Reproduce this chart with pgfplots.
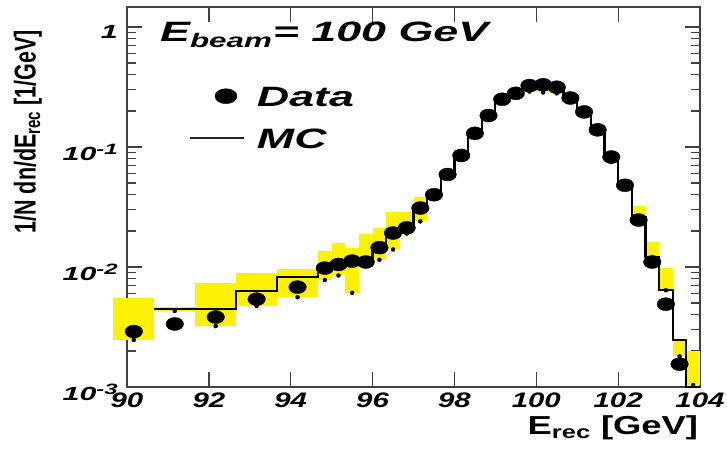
\documentclass[border=0pt]{standalone}
\usepackage{pgfplots}
\pgfplotsset{compat=1.18}
\usepackage{pgfplotstable}
\usepackage{graphicx}
\usepackage{fontspec}
\setmainfont{Liberation Sans}
\newcommand{\hs}[2]{\scalebox{#1}[1]{#2}}
\newcommand{\supx}[1]{\raisebox{6pt}{\fontsize{15}{15}\selectfont #1}}

% Data points: bin centre, 1/N dn/dE
\pgfplotstableread{
x y
90.167 0.0029
91.167 0.00335
92.167 0.00383
93.167 0.0054
94.167 0.0068
94.833 0.0098
95.167 0.0105
95.5 0.0112
95.833 0.0110
96.167 0.0145
96.5 0.0192
96.833 0.0212
97.167 0.031
97.5 0.040
97.833 0.059
98.167 0.085
98.5 0.130
98.833 0.183
99.167 0.250
99.5 0.280
99.833 0.325
100.167 0.330
100.5 0.315
100.833 0.256
101.167 0.196
101.5 0.139
101.833 0.0825
102.167 0.048
102.5 0.0246
102.833 0.011
103.167 0.0049
103.5 0.00155
}\data

% MC histogram: bin left edge, content (last row = right end)
\pgfplotstableread{
x y
90.667 0.00447
91.667 0.00447
92.667 0.0063
93.667 0.00825
94.667 0.0100
95.0 0.0107
95.333 0.0112
95.667 0.0115
96.0 0.0148
96.333 0.0198
96.667 0.0220
97.0 0.032
97.333 0.042
97.667 0.061
98.0 0.088
98.333 0.128
98.667 0.180
99.0 0.245
99.333 0.275
99.667 0.305
100.0 0.31
100.333 0.30
100.667 0.25
101.0 0.195
101.333 0.14
101.667 0.085
102.0 0.050
102.333 0.026
102.667 0.0121
103.0 0.0064
103.333 0.00247
103.667 0.001
104.0 0.001
}\mc

% MC uncertainty band, 1 GeV bins: bin centre, low, high
\pgfplotstableread{
xc lo hi
90.167 0.00247 0.0055
91.167 0.0043 0.0046
92.167 0.00322 0.00736
93.167 0.00473 0.0089
94.167 0.0056 0.0096
}\bandc

% MC uncertainty band, 1/3 GeV bins: bin centre, low, high
\pgfplotstableread{
xc lo hi
94.833 0.0078 0.0135
95.167 0.0085 0.016
95.5 0.0061 0.0145
95.833 0.0102 0.019
96.167 0.0115 0.021
96.5 0.014 0.029
96.833 0.019 0.029
97.167 0.024 0.038
97.5 0.040 0.045
97.833 0.058 0.064
98.167 0.084 0.095
98.5 0.122 0.138
98.833 0.172 0.19
99.167 0.235 0.255
99.5 0.265 0.285
99.833 0.29 0.315
100.167 0.285 0.32
100.5 0.28 0.31
100.833 0.24 0.26
101.167 0.185 0.205
101.5 0.133 0.147
101.833 0.075 0.09
102.167 0.047 0.053
102.5 0.026 0.032
102.833 0.0121 0.0162
103.167 0.0064 0.0098
103.5 0.0018 0.0025
103.833 0.00104 0.0020
}\bandf

\begin{document}
\begin{tikzpicture}
\path (0pt,0pt) rectangle (727pt,449pt);
\begin{axis}[
  at={(127pt,62pt)}, anchor=south west,
  scale only axis, width=573pt, height=380pt,
  xmin=90, xmax=104, ymode=log, ymin=1e-3, ymax=1.468,
  clip=false,
  axis line style={line width=1.5pt, black!75},
  tick align=inside,
  xtick={90,92,...,104},
  xticklabels={\hs{1.4}{90},\hs{1.4}{92},\hs{1.4}{94},\hs{1.4}{96},\hs{1.4}{98},\hs{1.4}{100},\hs{1.4}{102},\hs{1.4}{104}},
  ytick={0.001,0.01,0.1,1},
  yticklabels={\hs{1.6}{10\supx{-3}},\hs{1.6}{10\supx{-2}},\hs{1.6}{10\supx{-1}},\hs{1.6}{1}},
  x tick label style={font=\fontsize{21}{21}\selectfont\bfseries\itshape, inner sep=0pt, yshift=-6pt},
  y tick label style={font=\fontsize{19}{19}\selectfont\bfseries\itshape, inner sep=0pt, xshift=-9pt, yshift=-5pt},
  major tick length=15pt, minor tick length=9pt,
  tick style={line width=1.3pt, black!75},
  xlabel={\hs{1.4}{E\textsubscript{rec} [GeV]}},
  xlabel style={font=\fontsize{26}{26}\selectfont\bfseries, at={(axis description cs:0.997,-0.075)}, anchor=north east, inner sep=0pt},
  ylabel={\scalebox{1}[1.4]{1/N dn/dE\textsubscript{rec} [1/GeV]}},
  ylabel style={font=\fontsize{21.5}{21.5}\selectfont\bfseries, at={(axis description cs:-0.173,0.94)}, anchor=east, inner sep=0pt},
  legend style={at={(rel axis cs:0.103,0.80)}, anchor=north west, draw=none, fill=none,
    font=\fontsize{28}{28}\selectfont\bfseries\itshape, row sep=20pt,
    nodes={inner sep=1pt, text height=20pt, text depth=0pt}},
  legend cell align=left,
]
\addplot[only marks, mark=none, forget plot,
  error bars/.cd, y dir=plus, y explicit, error mark=none,
  error bar style={draw=yellow, line width=40.93pt}]
  table[x=xc, y=lo, y error expr=\thisrow{hi}-\thisrow{lo}] {\bandc};
\addplot[only marks, mark=none, forget plot,
  error bars/.cd, y dir=plus, y explicit, error mark=none,
  error bar style={draw=yellow, line width=13.64pt}]
  table[x=xc, y=lo, y error expr=\thisrow{hi}-\thisrow{lo}] {\bandf};

\addplot[only marks, mark=*, mark size=6.5pt, mark options={xscale=1.35, fill=black, draw=black},
  legend image code/.code={\path[draw=none, fill=none] (0pt,-1pt) rectangle (66pt,1pt); \fill[black] (36pt,0pt) ellipse [x radius=11pt, y radius=7.5pt];}]
  table[x=x, y=y] {\data};
\addlegendentry{\hs{1.6}{Data}}

\addplot[black, line width=2.2pt, const plot mark left,
  legend image code/.code={\path[draw=none, fill=none] (0pt,-1pt) rectangle (66pt,1pt); \draw[black!85, line width=1.5pt] (0pt,0pt) -- (54pt,0pt);}]
  table[x=x, y=y] {\mc};
\addlegendentry{\hs{1.6}{MC}}

\node[anchor=base west, font=\fontsize{28}{28}\selectfont\bfseries\itshape, inner sep=0pt]
  at (rel axis cs:0.0576,0.908) {\hs{1.6}{E\textsubscript{beam}= 100 GeV}};
\end{axis}
\end{tikzpicture}
\end{document}
